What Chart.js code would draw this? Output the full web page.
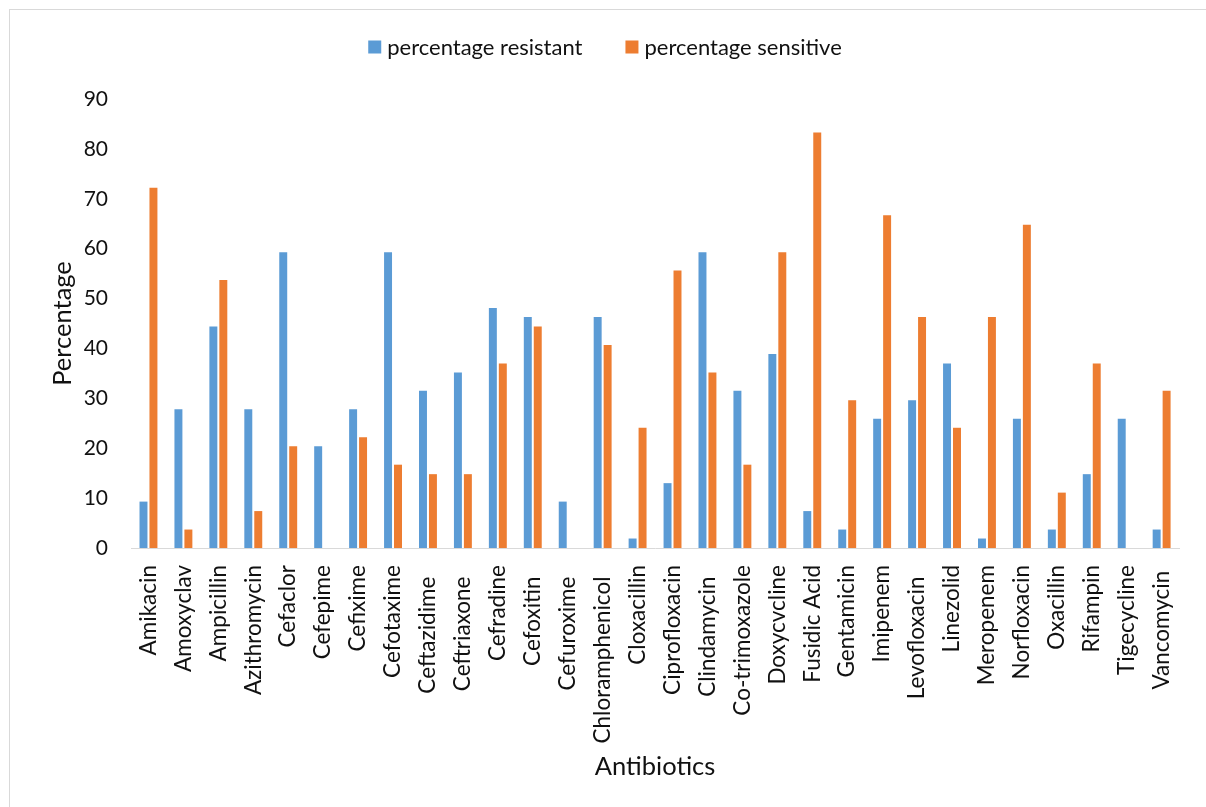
<!DOCTYPE html>
<html>
<head>
<meta charset="utf-8">
<script src="https://cdn.jsdelivr.net/npm/chart.js@4.4.0/dist/chart.umd.min.js"></script>
<style>
  html, body { margin: 0; padding: 0; background: #ffffff; }
  canvas { display: block; }
</style>
</head>
<body>
<canvas id="chart" width="1206" height="807"></canvas>
<script>
// Antibiotic susceptibility, per cent of isolates
const antibiotics = [
  'Amikacin', 'Amoxyclav', 'Ampicillin', 'Azithromycin', 'Cefaclor',
  'Cefepime', 'Cefixime', 'Cefotaxime', 'Ceftazidime  ', 'Ceftriaxone  ',
  'Cefradine', 'Cefoxitin  ', 'Cefuroxime  ', 'Chloramphenicol  ', 'Cloxacillin',
  'Ciprofloxacin', 'Clindamycin  ', 'Co-trimoxazole', 'Doxycvcline', 'Fusidic Acid',
  'Gentamicin', 'Imipenem', 'Levofloxacin  ', 'Linezolid', 'Meropenem',
  'Norfloxacin', 'Oxacillin', 'Rifampin', 'Tigecycline', 'Vancomycin '
];
const percentResistant = [
  9.3, 27.8, 44.4, 27.8, 59.3,
  20.4, 27.8, 59.3, 31.5, 35.2,
  48.1, 46.3, 9.3, 46.3, 1.9,
  13.0, 59.3, 31.5, 38.9, 7.4,
  3.7, 25.9, 29.6, 37.0, 1.9,
  25.9, 3.7, 14.8, 25.9, 3.7
];
const percentSensitive = [
  72.2, 3.7, 53.7, 7.4, 20.4,
  0, 22.2, 16.7, 14.8, 14.8,
  37.0, 44.4, 0, 40.7, 24.1,
  55.6, 35.2, 16.7, 59.3, 83.3,
  29.6, 66.7, 46.3, 24.1, 46.3,
  64.8, 11.1, 37.0, 0, 31.5
];
const seriesNames = ['percentage resistant', 'percentage sensitive'];
const seriesColors = ['#5B9BD5', '#ED7D31'];
const yMin = 0, yMax = 90, yStep = 10;

const FONT = 'Lato, "Open Sans", sans-serif';
const TEXT = '#111111';

// White page with a thin grey frame around the chart
const framePlugin = {
  id: 'frame',
  beforeDraw(chart) {
    const ctx = chart.ctx;
    ctx.save();
    ctx.fillStyle = '#ffffff';
    ctx.fillRect(0, 0, chart.width, chart.height);
    ctx.strokeStyle = '#d9d9d9';
    ctx.lineWidth = 1;
    ctx.strokeRect(9.5, 9.5, chart.width + 20, chart.height + 20);
    ctx.restore();
  }
};

// Centred series key above the plot
const keyPlugin = {
  id: 'seriesKey',
  afterDraw(chart) {
    const ctx = chart.ctx;
    const box = 13, gap = 6, spacing = 43, cy = 47;
    ctx.save();
    ctx.font = '22px ' + FONT;
    ctx.textBaseline = 'middle';
    const items = chart.data.datasets.map(ds => ({
      text: ds.label, color: ds.backgroundColor,
      w: box + gap + ctx.measureText(ds.label).width
    }));
    const total = items.reduce((s, it) => s + it.w, 0) + spacing * (items.length - 1);
    let x = (chart.width - total) / 2 + 2;
    items.forEach(it => {
      ctx.fillStyle = it.color;
      ctx.fillRect(x, cy - box / 2, box, box);
      ctx.fillStyle = TEXT;
      ctx.fillText(it.text, x + box + gap, cy + 1);
      x += it.w + spacing;
    });
    ctx.restore();
  }
};

new Chart(document.getElementById('chart'), {
  type: 'bar',
  data: {
    labels: antibiotics,
    datasets: [
      { label: seriesNames[0], data: percentResistant, backgroundColor: seriesColors[0] },
      { label: seriesNames[1], data: percentSensitive, backgroundColor: seriesColors[1] }
    ]
  },
  options: {
    responsive: false,
    devicePixelRatio: 1,
    animation: false,
    layout: { padding: { left: 0, right: 22, top: 99, bottom: 0 } },
    datasets: { bar: { categoryPercentage: 0.57, barPercentage: 0.8, borderWidth: 0 } },
    plugins: { legend: { display: false }, tooltip: { enabled: false } },
    scales: {
      x: {
        grid: { display: false, drawTicks: false },
        border: { display: true, color: '#d9d9d9', width: 1 },
        ticks: {
          autoSkip: false, minRotation: 90, maxRotation: 90, padding: 17,
          color: TEXT, font: { family: FONT, size: 22.5 }
        },
        title: {
          display: true, text: 'Antibiotics', color: TEXT,
          font: { family: FONT, size: 25.5 }, padding: { top: 0, bottom: 25 }
        },
        afterFit(scale) { scale.height = 259; }
      },
      y: {
        min: yMin, max: yMax,
        grid: { display: false, drawTicks: false },
        border: { display: false },
        ticks: {
          stepSize: yStep, padding: 23,
          color: TEXT, font: { family: FONT, size: 21 }
        },
        title: {
          display: true, text: 'Percentage', color: TEXT,
          font: { family: FONT, size: 25.5 }, padding: { top: 47, bottom: 0 }
        },
        afterFit(scale) { scale.width = 131; }
      }
    }
  },
  plugins: [framePlugin, keyPlugin]
});
</script>
</body>
</html>
